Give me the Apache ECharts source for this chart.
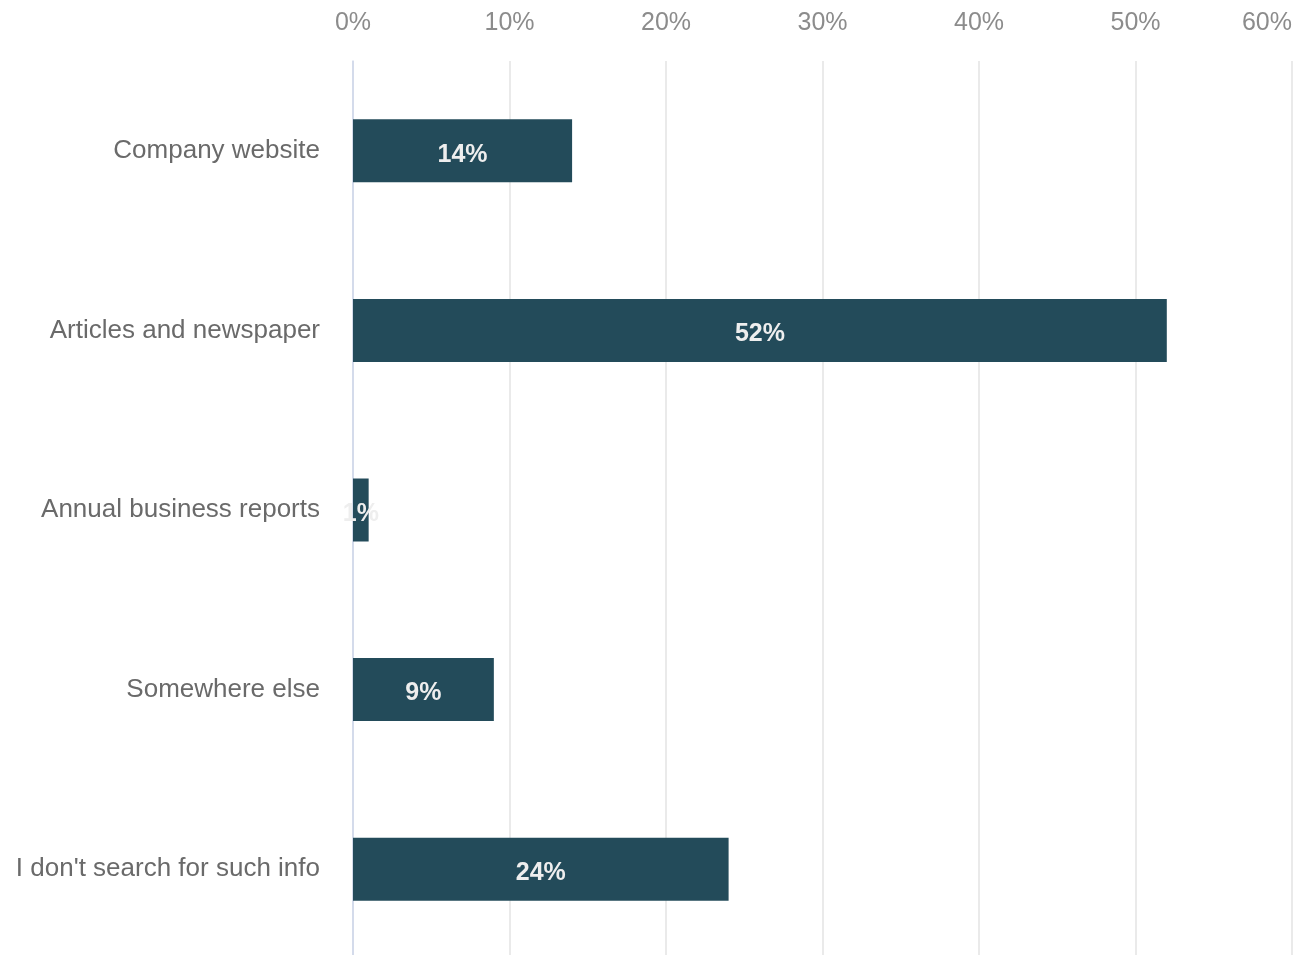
<!DOCTYPE html>
<html>
<head>
<meta charset="utf-8">
<script src="https://cdn.jsdelivr.net/npm/echarts@6/dist/echarts.min.js"></script>
<style>
  html, body { margin: 0; padding: 0; background: #ffffff; overflow: hidden; }
  #chart { width: 1303px; height: 955px; }
</style>
</head>
<body>
<div id="chart"></div>
<script>
// Where people look for company information (share of respondents, %)
const categories = [
  'Company website',
  'Articles and newspaper',
  'Annual business reports',
  'Somewhere else',
  "I don't search for such info"
];
const shares = [14, 52, 1, 9, 24];
const axisMax = 60;
const axisStep = 10;

const chart = echarts.init(document.getElementById('chart'), null, { renderer: 'canvas' });

chart.setOption({
  animation: false,
  backgroundColor: '#ffffff',
  grid: {
    left: 353, right: 11, top: 61, height: 898,
    containLabel: false,
    outerBoundsMode: 'none'
  },
  xAxis: {
    type: 'value',
    position: 'top',
    min: 0,
    max: axisMax,
    interval: axisStep,
    axisLine: { show: false },
    axisTick: { show: false },
    axisLabel: {
      formatter: '{value}%',
      color: '#8c8c8c',
      fontSize: 25,
      fontFamily: 'Liberation Sans, Arial, sans-serif',
      margin: 25,
      alignMaxLabel: 'right'
    },
    splitLine: { show: true, lineStyle: { color: '#e3e3e3', width: 1.5 } }
  },
  yAxis: {
    type: 'category',
    data: categories,
    inverse: true,
    axisLine: { show: true, lineStyle: { color: '#ccd6eb', width: 1.5 } },
    axisTick: { show: false },
    axisLabel: {
      color: '#6a6a6a',
      fontSize: 26,
      fontFamily: 'Liberation Sans, Arial, sans-serif',
      margin: 33,
      padding: [8, 0, 0, 0]
    },
    splitLine: { show: false }
  },
  series: [{
    type: 'bar',
    data: shares,
    barWidth: 63,
    itemStyle: { color: '#234b5a' },
    label: {
      show: true,
      position: 'inside',
      offset: [0, 4],
      formatter: '{c}%',
      color: '#eeeeee',
      fontSize: 25,
      fontWeight: 'bold',
      fontFamily: 'Liberation Sans, Arial, sans-serif'
    }
  }]
});
</script>
</body>
</html>
